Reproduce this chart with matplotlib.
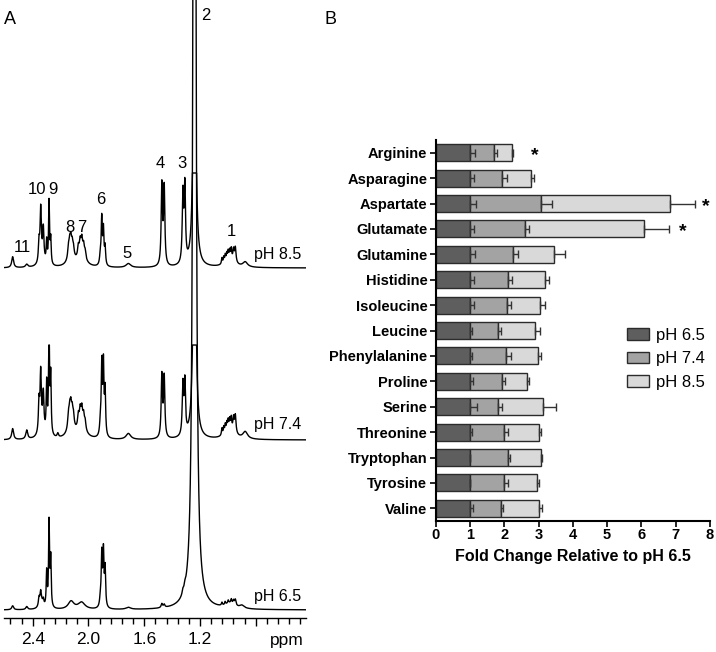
import numpy as np
import matplotlib
matplotlib.use("Agg")
import matplotlib.pyplot as plt
from matplotlib.ticker import FixedLocator

plt.rcParams['font.family'] = ['Liberation Sans', 'DejaVu Sans']

W, H = 716, 652

# ---------------- Panel B data ----------------
amino_acids = ["Arginine", "Asparagine", "Aspartate", "Glutamate", "Glutamine",
               "Histidine", "Isoleucine", "Leucine", "Phenylalanine", "Proline",
               "Serine", "Threonine", "Tryptophan", "Tyrosine", "Valine"]
fc_ph65 = [1.0] * 15
fc_ph74 = [0.70, 0.94, 2.08, 1.59, 1.24, 1.10, 1.07, 0.83, 1.05, 0.94,
           0.81, 0.99, 1.10, 0.99, 0.90]
fc_ph85 = [0.52, 0.83, 3.74, 3.49, 1.22, 1.08, 0.97, 1.07, 0.94, 0.71,
           1.31, 1.01, 0.98, 0.97, 1.11]
err_ph65 = [0.15, 0.13, 0.18, 0.13, 0.16, 0.13, 0.13, 0.07, 0.05, 0.08,
            0.20, 0.06, 0.01, 0.01, 0.08]
err_ph74 = [0.10, 0.15, 0.31, 0.14, 0.17, 0.13, 0.13, 0.07, 0.14, 0.09,
            0.11, 0.13, 0.07, 0.13, 0.07]
err_ph85 = [0.04, 0.10, 0.74, 0.72, 0.30, 0.12, 0.16, 0.14, 0.07, 0.08,
            0.38, 0.06, 0.02, 0.04, 0.08]
significant = ["Arginine", "Aspartate", "Glutamate"]
star_x = [2.9, 7.88, 7.2]
series_labels = ["pH 6.5", "pH 7.4", "pH 8.5"]
bar_colors = ["#5e5e5e", "#a3a3a3", "#d9d9d9"]
x_ticks_b = [0, 1, 2, 3, 4, 5, 6, 7, 8]

# ---------------- Panel A data (peak lists: ppm, height, half-width ppm) ----------------
spec_labels = ["pH 6.5", "pH 7.4", "pH 8.5"]
spec_baselines = [8, 178, 350]
spec_clip = [None, 95, 95]

ph65_pos = [2.544, 2.443, 2.340, 2.355, 2.343, 2.324, 2.300, 2.283, 2.271,
            2.125, 2.050, 1.915, 1.905, 1.893, 1.881, 1.714,
            1.474, 1.457, 1.323, 1.309, 1.240,
            0.985, 1.043, 1.020, 0.998, 0.976, 0.960, 0.947, 0.90]
ph65_h = [4, 3, 8, 8, 10, 6, 35, 85, 48,
          8, 7, 8, 52, 54, 38, 2,
          4, 3, 4, 4, 2000,
          5, 3, 3, 3, 4, 4, 6, 3]
ph65_w = [0.008, 0.008, 0.015, 0.005, 0.005, 0.005, 0.004, 0.004, 0.004,
          0.025, 0.03, 0.006, 0.0045, 0.0045, 0.0045, 0.02,
          0.006, 0.006, 0.006, 0.006, 0.0078,
          0.04, 0.004, 0.004, 0.004, 0.004, 0.005, 0.006, 0.02]

ph74_pos = [2.544, 2.443, 2.335, 2.355, 2.343, 2.324, 2.300, 2.283, 2.271, 2.220,
            2.125, 2.144, 2.135, 2.127, 2.117, 2.108,
            2.050, 2.073, 2.060, 2.048, 2.035, 2.024,
            1.915, 1.905, 1.893, 1.881, 1.714, 1.474, 1.457, 1.323, 1.309, 1.240,
            0.985, 1.043, 1.030, 1.019, 1.008, 0.998, 0.987, 0.976, 0.960, 0.947, 0.876]
ph74_h = [11, 9, 12, 30, 55, 35, 50, 110, 58, 4,
          15, 12, 14, 15, 12, 10,
          15, 12, 14, 14, 11, 8,
          12, 70, 70, 45, 6, 62, 60, 50, 52, 400,
          10, 7, 7, 8, 8, 9, 9, 11, 13, 18, 7]
ph74_w = [0.008, 0.008, 0.02, 0.005, 0.005, 0.005, 0.004, 0.004, 0.004, 0.006,
          0.025, 0.006, 0.006, 0.006, 0.006, 0.006,
          0.03, 0.006, 0.006, 0.006, 0.006, 0.006,
          0.006, 0.0045, 0.0045, 0.0045, 0.02, 0.0055, 0.0055, 0.0055, 0.0055, 0.0085,
          0.04, 0.004, 0.004, 0.004, 0.004, 0.004, 0.004, 0.004, 0.005, 0.006, 0.02]

ph85_pos = [2.544, 2.443, 2.333, 2.355, 2.343, 2.324, 2.300, 2.283, 2.271,
            2.125, 2.144, 2.135, 2.127, 2.117, 2.108,
            2.050, 2.073, 2.060, 2.048, 2.035, 2.024,
            1.915, 1.905, 1.893, 1.881, 1.714, 1.474, 1.457, 1.323, 1.309, 1.240,
            0.985, 1.043, 1.030, 1.019, 1.008, 0.998, 0.987, 0.976, 0.960, 0.947, 0.876]
ph85_h = [11, 3, 10, 20, 50, 30, 22, 63, 25,
          12, 10, 12, 13, 10, 8,
          14, 10, 12, 13, 10, 7,
          10, 46, 35, 18, 4, 80, 77, 68, 75, 400,
          8, 6, 6, 7, 7, 8, 8, 10, 11, 15, 5]
ph85_w = [0.008, 0.01, 0.02, 0.005, 0.005, 0.005, 0.004, 0.004, 0.004,
          0.025, 0.006, 0.006, 0.006, 0.006, 0.006,
          0.03, 0.006, 0.006, 0.006, 0.006, 0.006,
          0.006, 0.0045, 0.0045, 0.0045, 0.02, 0.0055, 0.0055, 0.0055, 0.0055, 0.0085,
          0.04, 0.004, 0.004, 0.004, 0.004, 0.004, 0.004, 0.004, 0.005, 0.006, 0.02]

peak_numbers = ["11", "10", "9", "8", "7", "6", "5", "4", "3", "2", "1"]
peak_label_px = [(22, 248), (37, 190), (53, 190), (70, 228), (82, 228), (101, 199),
                 (127, 253), (160, 164), (182, 164), (206, 16), (231, 231)]
spec_label_px = [(278, 596), (278, 425), (278, 254)]

ppm_ticks = [2.4, 2.0, 1.6, 1.2, 0.8]
ppm_ticklabels = ["2.4", "2.0", "1.6", "1.2", ""]
ppm_minor = [2.56, 2.48, 2.32, 2.24, 2.16, 2.08, 1.92, 1.84, 1.76, 1.68,
             1.52, 1.44, 1.36, 1.28, 1.12, 1.04, 0.96, 0.88, 0.72, 0.64, 0.56, 0.48]

# ---------------- Figure ----------------
fig = plt.figure(figsize=(W / 100, H / 100), dpi=100)


def px_axes(x0, y0, x1, y1):
    return fig.add_axes([x0 / W, 1 - y1 / H, (x1 - x0) / W, (y1 - y0) / H])


# Panel A
axA = px_axes(4, 0, 306, 618)
ppm = np.linspace(2.61, 0.43, 12000)
spectra = [(ph65_pos, ph65_h, ph65_w), (ph74_pos, ph74_h, ph74_w), (ph85_pos, ph85_h, ph85_w)]
for (pos, hh, ww), base, clip in zip(spectra, spec_baselines, spec_clip):
    y = np.zeros_like(ppm)
    for p, h, w in zip(pos, hh, ww):
        y += h * w ** 2 / ((ppm - p) ** 2 + w ** 2)
    if clip is not None:
        y = np.minimum(y, clip)
    axA.plot(ppm, base + y, color="black", lw=1.0)
axA.set_xlim(2.606, 0.44)
axA.set_ylim(0, 618)
for s in ["top", "right", "left"]:
    axA.spines[s].set_visible(False)
axA.spines["bottom"].set_linewidth(1.0)
axA.set_yticks([])
axA.xaxis.set_major_locator(FixedLocator(ppm_ticks))
axA.set_xticklabels(ppm_ticklabels, fontsize=12.5)
axA.xaxis.set_minor_locator(FixedLocator(ppm_minor))
axA.tick_params(axis="x", which="major", length=6, width=1, direction="out", pad=4)
axA.tick_params(axis="x", which="minor", length=4, width=1, direction="out")
axA.patch.set_alpha(0)

for lab, (x, y) in zip(peak_numbers, peak_label_px):
    fig.text(x / W, 1 - y / H, lab, ha="center", va="center", fontsize=12)
for lab, (x, y) in zip(spec_labels, spec_label_px):
    fig.text(x / W, 1 - y / H, lab, ha="center", va="center", fontsize=11.5)
fig.text(287 / W, 1 - 641 / H, "ppm", ha="center", va="center", fontsize=12.5)
fig.text(10 / W, 1 - 20 / H, "A", ha="center", va="center", fontsize=13)
fig.text(331 / W, 1 - 20 / H, "B", ha="center", va="center", fontsize=13)

# Panel B
axB = px_axes(435.7, 140, 710, 521)
yy = np.arange(len(amino_acids))
left = np.zeros(len(amino_acids))
for vals, errs, col, lab in zip([fc_ph65, fc_ph74, fc_ph85], [err_ph65, err_ph74, err_ph85],
                                bar_colors, series_labels):
    vals = np.array(vals)
    axB.barh(yy, vals, left=left, height=0.67, color=col, edgecolor="#2b2b2b",
             linewidth=1.0, label=lab, zorder=2)
    ends = left + vals
    axB.errorbar(ends, yy, xerr=[np.zeros_like(ends), np.array(errs)], fmt="none",
                 ecolor="#333333", elinewidth=1.0, capsize=2.6, capthick=1.0, zorder=3)
    left = ends
for name, sx in zip(significant, star_x):
    axB.text(sx, amino_acids.index(name) + 0.12, "*", ha="center", va="center",
             fontsize=14, fontweight="bold")
axB.set_ylim(len(amino_acids) - 0.5, -0.5)
axB.set_xlim(0, 8)
axB.set_yticks(yy)
axB.set_yticklabels(amino_acids, fontsize=10.5, fontweight="bold")
axB.set_xticks(x_ticks_b)
axB.set_xticklabels([str(t) for t in x_ticks_b], fontsize=10.5, fontweight="bold")
axB.set_xlabel("Fold Change Relative to pH 6.5", fontsize=11.5, fontweight="bold", labelpad=5)
for s in ["top", "right"]:
    axB.spines[s].set_visible(False)
for s in ["left", "bottom"]:
    axB.spines[s].set_linewidth(1.5)
axB.tick_params(axis="y", length=4, width=1.2, direction="out", pad=2)
axB.tick_params(axis="x", length=4, width=1.2, direction="out", pad=1)
leg = axB.legend(loc="upper left", bbox_to_anchor=((627 - 435.7) / 274.3, 1 - (328 - 140) / 381),
                 frameon=False, fontsize=12, handlelength=1.3, handleheight=0.7,
                 labelspacing=0.5, handletextpad=0.45, borderaxespad=0, borderpad=0)

fig.savefig("out.png", dpi=100)
